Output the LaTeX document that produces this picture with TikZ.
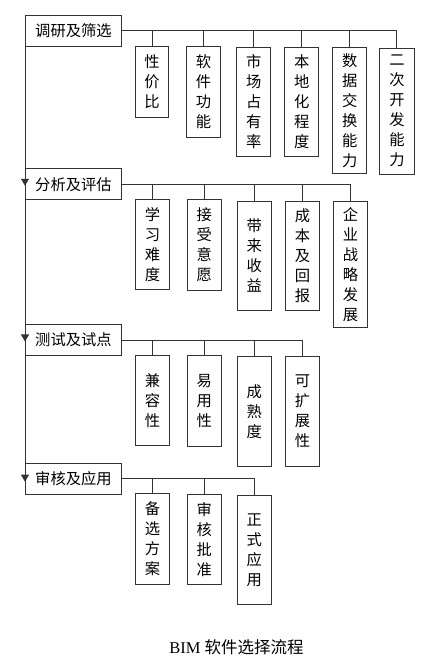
\documentclass[tikz,border=0pt]{standalone}
\usepackage{fontspec}
\setmainfont{Liberation Serif}
\newfontfamily\cjk{Noto Sans CJK SC}
\usetikzlibrary{arrows.meta}
\newcommand\vbx[6]{\node[vbox, minimum width=#4pt, minimum height=#5pt, anchor=north west] (#1) at (#2,#3) {#6};}
\newcommand\mbx[3]{\node[mainbox, minimum width=96pt, minimum height=31pt, anchor=north west] (#1) at (25,#2) {#3};}
\begin{document}
\begin{tikzpicture}[x=1pt,y=-1pt,
  line/.style={draw=black!80, line width=0.9pt},
  mainbox/.style={line, rectangle, inner sep=0pt, font=\cjk\fontsize{15.3}{20}\selectfont},
  vbox/.style={line, rectangle, inner sep=0pt, align=center, font=\cjk\fontsize{15.3}{20}\selectfont},
  conn/.style={line},
  flow/.style={line, -{Triangle[width=8pt,length=7pt]}}
]
\useasboundingbox (0,0) rectangle (433,669);
% main boxes
\mbx{m1}{15}{调研及筛选}
\mbx{m2}{168.3}{分析及评估}
\mbx{m3}{324}{测试及试点}
\mbx{m4}{462.7}{审核及应用}
% row 1
\vbx{c11}{134.7}{46}{33.7}{70.7}{性\\价\\比}
\vbx{c12}{186}{46}{34}{90.7}{软\\件\\功\\能}
\vbx{c13}{236.3}{47}{34}{109}{市\\场\\占\\有\\率}
\vbx{c14}{284.3}{47}{34}{109}{本\\地\\化\\程\\度}
\vbx{c15}{332.3}{47}{34}{126}{数\\据\\交\\换\\能\\力}
\vbx{c16}{379.3}{47.7}{34.3}{126}{二\\次\\开\\发\\能\\力}
% row 2
\vbx{c21}{135}{199.3}{34}{90}{学\\习\\难\\度}
\vbx{c22}{186.7}{199.3}{34}{90.7}{接\\受\\意\\愿}
\vbx{c23}{237}{200.7}{33.7}{109.3}{带\\来\\收\\益}
\vbx{c24}{285}{200.7}{34}{109.3}{成\\本\\及\\回\\报}
\vbx{c25}{333}{201}{34}{125.7}{企\\业\\战\\略\\发\\展}
% row 3
\vbx{c31}{135}{355.3}{34}{90}{兼\\容\\性}
\vbx{c32}{186.7}{355.3}{34}{90.4}{易\\用\\性}
\vbx{c33}{237}{356}{33.7}{109.7}{成\\熟\\度}
\vbx{c34}{285}{356}{34}{109.7}{可\\扩\\展\\性}
% row 4
\vbx{c41}{135}{493.3}{34}{90.4}{备\\选\\方\\案}
\vbx{c42}{186.7}{494}{34}{90}{审\\核\\批\\准}
\vbx{c43}{237}{494.7}{33.7}{109.3}{正\\式\\应\\用}
% connectors
\foreach \c in {c11,c12,c13,c14,c15,c16} \draw[conn] (m1.east) -| (\c.north);
\foreach \c in {c21,c22,c23,c24,c25} \draw[conn] (m2.east) -| (\c.north);
\foreach \c in {c31,c32,c33,c34} \draw[conn] (m3.east) -| (\c.north);
\foreach \c in {c41,c42,c43} \draw[conn] (m4.east) -| (\c.north);
% flow
\draw[flow] (m1.south west) -- ([yshift=-1.5pt]m2.west);
\draw[flow] (m2.south west) -- ([yshift=-1.5pt]m3.west);
\draw[flow] (m3.south west) -- ([yshift=-3pt]m4.west);
% title
\node[font=\fontsize{16.5}{19}\selectfont] (title) at (236.5,647.5) {BIM {\cjk 软件选择流程}};
\end{tikzpicture}
\end{document}
